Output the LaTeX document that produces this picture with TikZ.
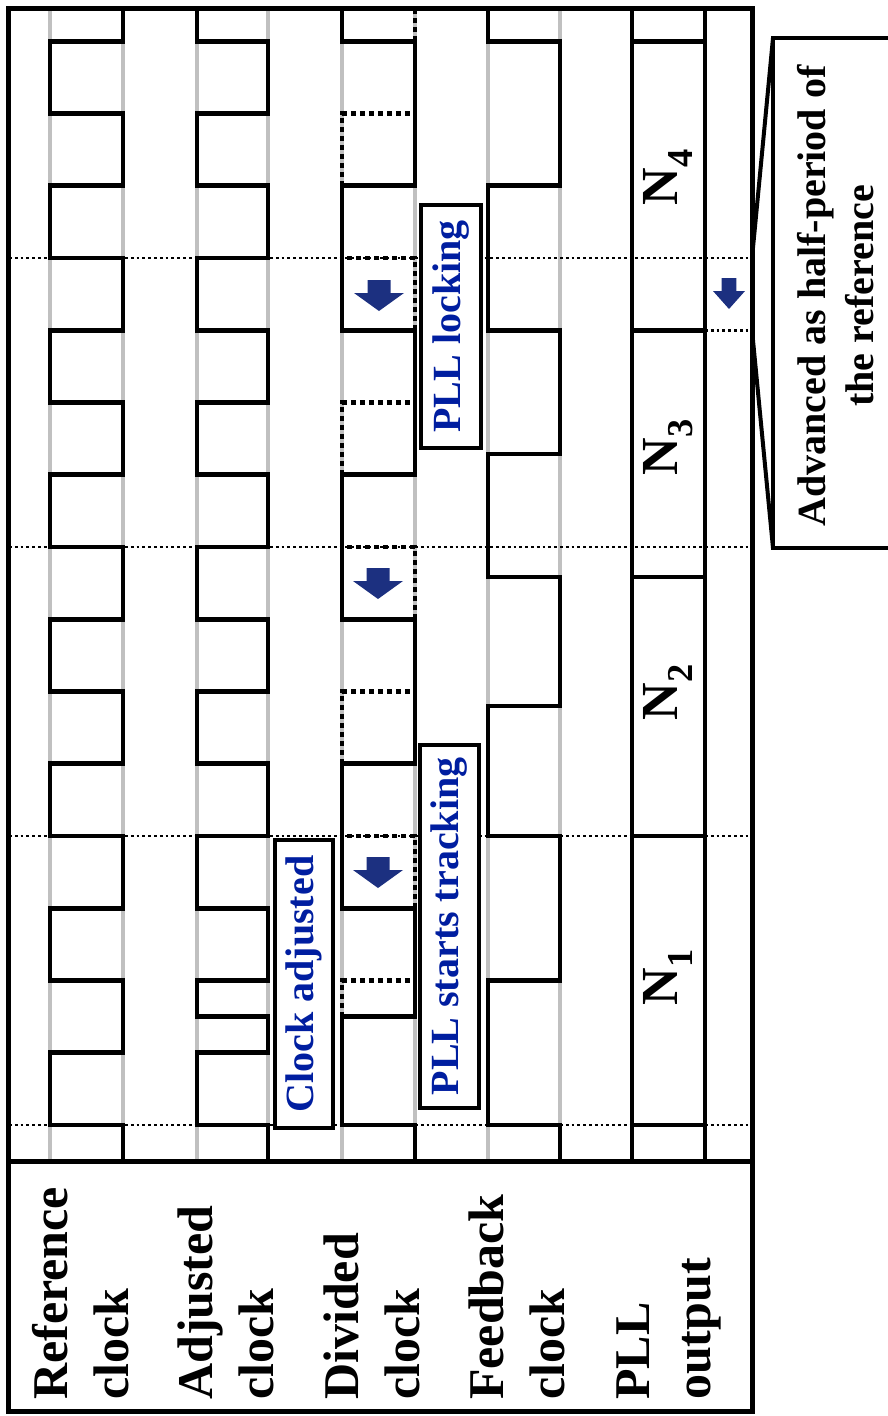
\documentclass[tikz,border=0pt]{standalone}
\usepackage{fontspec}
\setmainfont{Liberation Serif}
\usetikzlibrary{positioning}

\definecolor{railgrey}{RGB}{192,192,192}
\definecolor{noteblue}{RGB}{0,30,160}
\definecolor{arrowblue}{RGB}{28,48,128}

% time of the k-th reference half period (pixels, time runs upwards)
\newcommand{\Tk}[1]{{1125-72.25*(#1)}}

\begin{document}
\begin{tikzpicture}[
    x=1pt, y=-1pt,
    wave/.style={line width=4.8pt},
    rail/.style={railgrey, line width=4.5pt},
    guide/.style={line width=2.8pt, dash pattern=on 2.8pt off 3pt},
    orig/.style={line width=4.8pt, dash pattern=on 5pt off 4pt},
    label/.style={font=\fontsize{50}{60}\selectfont\bfseries, rotate=90, anchor=base west, inner sep=0pt},
    busname/.style={font=\fontsize{52}{60}\selectfont\bfseries, rotate=90, inner sep=0pt},
    note/.style={draw, line width=3.5pt, fill=white, text=noteblue, font=\fontsize{40}{48}\selectfont\bfseries, rotate=90, inner sep=0pt},
    advance/.pic={\fill[arrowblue] (-11.5,0) -- (11.5,0) -- (11.5,13) -- (25,13) -- (0,31) -- (-25,13) -- (-11.5,13) -- cycle;}
]
\useasboundingbox (0,0) rectangle (887,1416);

% Rails
\draw[rail] (50,9) -- (50,1160) (123,9) -- (123,1160);
\draw[rail] (197,9) -- (197,1160) (268,9) -- (268,1160);
\draw[rail] (342,9) -- (342,1160) (415,9) -- (415,1160);
\draw[rail] (488,9) -- (488,1160) (560,9) -- (560,1160);

% Guides
\draw[guide] (9,\Tk{0}) -- (752,\Tk{0});
\draw[guide] (9,\Tk{4}) -- (752,\Tk{4});
\draw[guide] (9,\Tk{8}) -- (752,\Tk{8});
\draw[guide] (9,\Tk{12}) -- (752,\Tk{12});
\draw[guide] (705,\Tk{11}) -- (752,\Tk{11});

% Reference clock
\draw[wave] (123,1160) |- (50,\Tk{0}) |- (123,\Tk{1}) |- (50,\Tk{2}) |- (123,\Tk{3}) |- (50,\Tk{4})
    |- (123,\Tk{5}) |- (50,\Tk{6}) |- (123,\Tk{7}) |- (50,\Tk{8}) |- (123,\Tk{9}) |- (50,\Tk{10})
    |- (123,\Tk{11}) |- (50,\Tk{12}) |- (123,\Tk{13}) |- (50,\Tk{14}) |- (123,\Tk{15}) -- (123,9);

% Adjusted clock
\draw[wave] (268,1160) |- (197,\Tk{0}) |- (268,\Tk{1}) |- (197,\Tk{1.5}) |- (268,\Tk{2}) |- (197,\Tk{3})
    |- (268,\Tk{4}) |- (197,\Tk{5}) |- (268,\Tk{6}) |- (197,\Tk{7}) |- (268,\Tk{8}) |- (197,\Tk{9})
    |- (268,\Tk{10}) |- (197,\Tk{11}) |- (268,\Tk{12}) |- (197,\Tk{13}) |- (268,\Tk{14}) |- (197,\Tk{15}) -- (197,9);

% Divided clock
\draw[wave] (415,1160) |- (342,\Tk{0}) |- (415,\Tk{1.5}) |- (342,\Tk{3}) |- (415,\Tk{5}) |- (342,\Tk{7})
    |- (415,\Tk{9}) |- (342,\Tk{11}) |- (415,\Tk{13}) |- (342,\Tk{15}) -- (342,9);
\draw[orig] (342,\Tk{1.5}) |- (415,\Tk{2});
\draw[orig] (415,\Tk{3}) |- (342,\Tk{4});
\draw[orig] (342,\Tk{5}) |- (415,\Tk{6});
\draw[orig] (415,\Tk{7}) |- (342,\Tk{8});
\draw[orig] (342,\Tk{9}) |- (415,\Tk{10});
\draw[orig] (415,\Tk{11}) |- (342,\Tk{12});
\draw[orig] (342,\Tk{13}) |- (415,\Tk{14});
\draw[orig] (415,\Tk{15}) -- (415,9);

% Feedback clock
\draw[wave] (560,1160) |- (488,\Tk{0}) |- (560,\Tk{2}) |- (488,\Tk{4}) |- (560,706) |- (488,577)
    |- (560,454) |- (488,\Tk{11}) |- (560,\Tk{13}) |- (488,\Tk{15}) -- (488,9);

% PLL output
\draw[wave] (632,9) -- (632,1160) (705,9) -- (705,1160);
\draw[wave] (632,\Tk{0}) -- (705,\Tk{0}) (632,\Tk{4}) -- (705,\Tk{4}) (632,577) -- (705,577)
    (632,\Tk{11}) -- (705,\Tk{11}) (632,\Tk{15}) -- (705,\Tk{15});
\node[busname] (n1) at (668,977) {N\textsubscript{1}};
\node[busname] (n2) at (668,692) {N\textsubscript{2}};
\node[busname] (n3) at (668,447) {N\textsubscript{3}};
\node[busname] (n4) at (668,177) {N\textsubscript{4}};

% Notes
\node[note, minimum width=288pt, minimum height=58pt] (adjusted) at (304,984) {Clock adjusted};
\node[note, minimum width=363pt, minimum height=59pt] (tracking) at (449.5,926.5) {PLL starts tracking};
\node[note, minimum width=243pt, minimum height=60pt] (locking) at (451,326.5) {PLL locking};

% Advance arrows
\pic (adv1) at (378,857) {advance};
\pic (adv2) at (378,568) {advance};
\pic (adv3) at (379,280) {advance};
\pic[xscale=0.64] (adv4) at (729,278) {advance};

% Callout
\draw[line width=4pt] (900,38) -- (773,38) -- (773,548) -- (900,548);
\draw[line width=4pt] (773,38) -- (752,258) (752,330) -- (773,548);
\node[font=\fontsize{40}{48}\selectfont\bfseries, rotate=90, align=center] (halfnote) at (836,296)
    {Advanced as half-period of\\the reference};

% Frame
\draw[line width=5pt] (8.5,8.5) rectangle (752,1411.5);
\draw[line width=5pt] (8.5,1161) -- (752,1161);

% Signal names
\node[label] (refA) at (67,1400) {Reference};
\node[label] (refB) at (128,1400) {clock};
\node[label] (adjA) at (212.5,1400) {Adjusted};
\node[label] (adjB) at (273.5,1400) {clock};
\node[label] (divA) at (358,1400) {Divided};
\node[label] (divB) at (419,1400) {clock};
\node[label] (fbA) at (503.5,1400) {Feedback};
\node[label] (fbB) at (564.5,1400) {clock};
\node[label] (pllA) at (649,1400) {PLL};
\node[label] (pllB) at (710,1400) {output};

\end{tikzpicture}
\end{document}
